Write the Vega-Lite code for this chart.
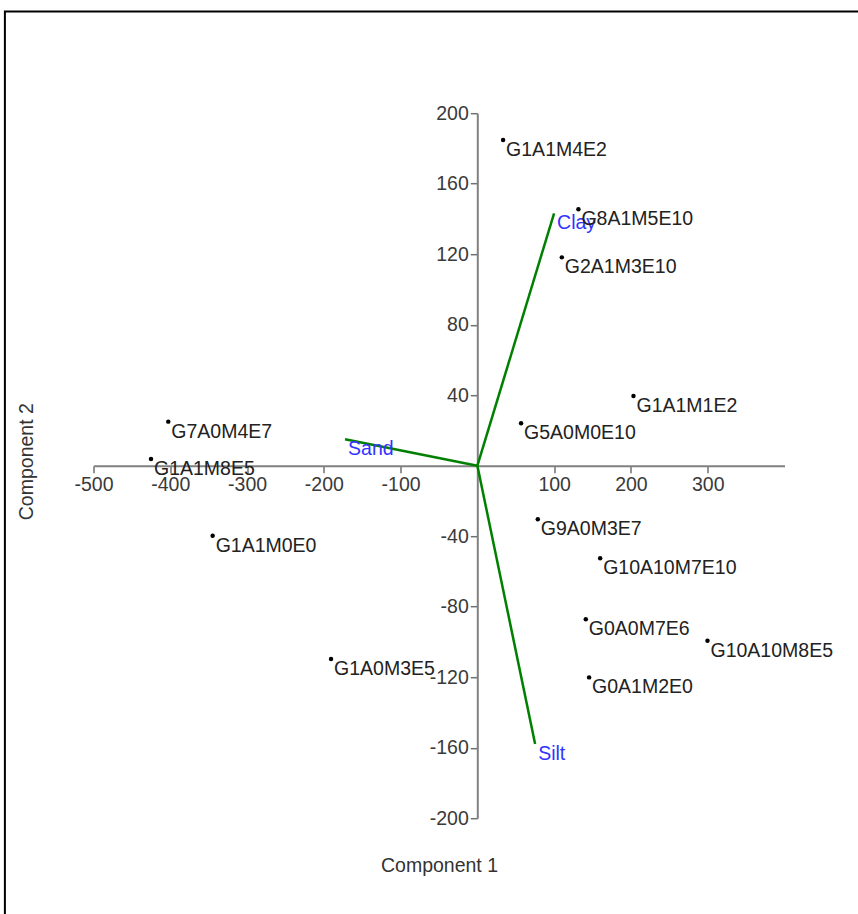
{
  "$schema": "https://vega.github.io/schema/vega-lite/v6.json",
  "width": 691,
  "height": 705,
  "autosize": {"type": "none"},
  "padding": {"left": 93.5, "top": 113.2, "right": 73.5, "bottom": 95.8},
  "background": "white",
  "config": {"view": {"stroke": null}, "font": "Liberation Sans"},
  "datasets": {
    "scores": [
      {"label": "G1A1M4E2", "x": 33.5, "y": 184.8},
      {"label": "G8A1M5E10", "x": 131.6, "y": 145.5},
      {"label": "G2A1M3E10", "x": 110.0, "y": 118.2},
      {"label": "G1A1M1E2", "x": 203.3, "y": 39.5},
      {"label": "G5A0M0E10", "x": 56.9, "y": 24.1},
      {"label": "G7A0M4E7", "x": -402.6, "y": 25.0},
      {"label": "G1A1M8E5", "x": -425.1, "y": 3.8},
      {"label": "G1A1M0E0", "x": -344.8, "y": -39.7},
      {"label": "G9A0M3E7", "x": 78.7, "y": -30.4},
      {"label": "G10A10M7E10", "x": 159.9, "y": -52.5},
      {"label": "G0A0M7E6", "x": 141.2, "y": -87.1},
      {"label": "G10A10M8E5", "x": 299.7, "y": -99.3},
      {"label": "G1A0M3E5", "x": -190.6, "y": -109.7},
      {"label": "G0A1M2E0", "x": 145.5, "y": -120.1}
    ],
    "loadings": [
      {"label": "Clay", "x": 99.9, "y": 143.2},
      {"label": "Sand", "x": -172.4, "y": 15.0},
      {"label": "Silt", "x": 75.2, "y": -157.9}
    ],
    "frame": [
      {"left": -615.4, "right": 1000, "top": 257.7, "bottom": -400}
    ]
  },
  "layer": [
    {
      "data": {"name": "frame"},
      "mark": {"type": "rect", "fill": null, "stroke": "black", "strokeWidth": 2, "clip": false},
      "encoding": {
        "x": {
          "field": "left", "type": "quantitative",
          "scale": {"domain": [-500, 400], "nice": false, "zero": false},
          "axis": {
            "values": [-500, -400, -300, -200, -100, 100, 200, 300],
            "labelExpr": "'' + datum.value",
            "offset": -352.5,
            "grid": false,
            "domainColor": "#808080", "domainWidth": 2,
            "tickColor": "#707070", "tickSize": 7, "tickWidth": 1.5,
            "labelColor": "#3a3a3a", "labelFontSize": 19.5, "labelFont": "Liberation Sans",
            "labelPadding": 3, "labelFlush": false, "labelOverlap": false,
            "title": "Component 1", "titleFont": "Liberation Sans", "titleFontSize": 19.5, "titleFontWeight": "normal",
            "titleColor": "#333333", "titleY": 399.3, "titleBaseline": "middle"
          }
        },
        "x2": {"field": "right"},
        "y": {
          "field": "top", "type": "quantitative",
          "scale": {"domain": [-200, 200], "nice": false, "zero": false},
          "axis": {
            "values": [-200, -160, -120, -80, -40, 40, 80, 120, 160, 200],
            "labelExpr": "'' + datum.value",
            "offset": -383.8,
            "grid": false,
            "domainColor": "#808080", "domainWidth": 2,
            "tickColor": "#707070", "tickSize": 7, "tickWidth": 1.5,
            "labelColor": "#3a3a3a", "labelFontSize": 19.5, "labelFont": "Liberation Sans",
            "labelPadding": 2, "labelFlush": false, "labelOverlap": false,
            "title": "Component 2", "titleFont": "Liberation Sans", "titleFontSize": 19.5, "titleFontWeight": "normal",
            "titleColor": "#333333", "titleX": -450.6, "titleY": 348, "titleAngle": -90,
            "titleBaseline": "middle", "titleAlign": "center"
          }
        },
        "y2": {"field": "bottom"}
      }
    },
    {
      "data": {"name": "loadings"},
      "mark": {"type": "rule", "color": "#008000", "strokeWidth": 2.5},
      "encoding": {
        "x": {"field": "x", "type": "quantitative"},
        "x2": {"datum": 0},
        "y": {"field": "y", "type": "quantitative"},
        "y2": {"datum": 0}
      }
    },
    {
      "data": {"name": "loadings"},
      "mark": {"type": "text", "align": "left", "baseline": "top", "dx": 3, "dy": 1, "fontSize": 19.5, "color": "#3333ff"},
      "encoding": {
        "x": {"field": "x", "type": "quantitative"},
        "y": {"field": "y", "type": "quantitative"},
        "text": {"field": "label", "type": "nominal"}
      }
    },
    {
      "data": {"name": "scores"},
      "mark": {"type": "circle", "size": 20, "color": "black", "opacity": 1},
      "encoding": {
        "x": {"field": "x", "type": "quantitative"},
        "y": {"field": "y", "type": "quantitative"}
      }
    },
    {
      "data": {"name": "scores"},
      "mark": {"type": "text", "align": "left", "baseline": "top", "dx": 3, "dy": 1, "fontSize": 19.5, "color": "#222222"},
      "encoding": {
        "x": {"field": "x", "type": "quantitative"},
        "y": {"field": "y", "type": "quantitative"},
        "text": {"field": "label", "type": "nominal"}
      }
    }
  ]
}
